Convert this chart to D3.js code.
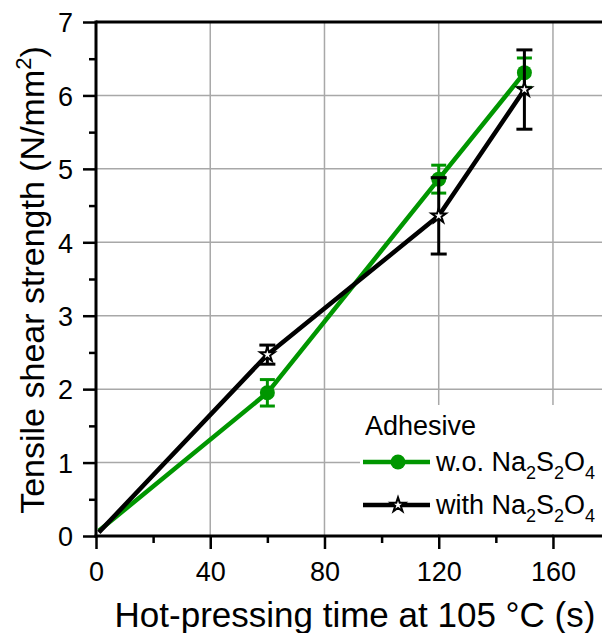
<!DOCTYPE html>
<html>
<head>
<meta charset="utf-8">
<script src="https://cdn.jsdelivr.net/npm/d3@7"></script>
<style>
  body { margin: 0; background: #fff; }
  text { font-family: "Liberation Sans", Arial, sans-serif; fill: #000; }
</style>
</head>
<body>
<div id="chart"></div>
<script>
(function() {

  // data
  var times = [1, 60, 120, 150];
  var woMean = [0.07, 1.95, 4.86, 6.31];
  var woErr = [null, 0.18, 0.19, 0.20];
  var withMean = [0.05, 2.47, 4.36, 6.08];
  var withErr = [null, 0.13, 0.52, 0.54];
  var xTicks = [0, 40, 80, 120, 160];
  var yTicks = [0, 1, 2, 3, 4, 5, 6, 7];

  var W = 602, H = 633;
  var margin = { top: 22, left: 96, right: 0, bottom: 97 };

  var svg = d3.select("#chart")
        .append("svg")
        .attr("width", W)
        .attr("height", H);

  var x = d3.scaleLinear().domain([0, 177]).range([margin.left, margin.left + 177 * 2.856]);
  var y = d3.scaleLinear().domain([0, 7]).range([H - margin.bottom + 0, margin.top]);

  var green = "#009600";

  // grid
  var grid = svg.append("g").attr("stroke", "#a8a8a8").attr("stroke-width", 1.5);
  grid.selectAll(".gx")
    .data(xTicks.filter(function(d){ return d > 0; }))
    .enter().append("line")
    .attr("x1", function(d){ return x(d); })
    .attr("x2", function(d){ return x(d); })
    .attr("y1", y(0))
    .attr("y2", y(7));
  grid.selectAll(".gy")
    .data(yTicks.filter(function(d){ return d > 0 && d < 7; }))
    .enter().append("line")
    .attr("y1", function(d){ return y(d); })
    .attr("y2", function(d){ return y(d); })
    .attr("x1", x(0))
    .attr("x2", W);

  // legend background covers the grid
  svg.append("rect")
    .attr("x", 360).attr("y", 405)
    .attr("width", W - 360).attr("height", y(0) - 407)
    .attr("fill", "#fff");

  // top frame
  svg.append("line")
    .attr("x1", x(0)).attr("x2", W)
    .attr("y1", y(7)).attr("y2", y(7))
    .attr("stroke", "#000").attr("stroke-width", 3);

  // axes
  var xAxis = d3.axisBottom(x)
    .tickValues(d3.range(0, 177, 20))
    .tickSize(13)
    .tickFormat(function(d){ return d % 40 === 0 ? d : ""; });
  var gx = svg.append("g")
    .attr("transform", "translate(0," + y(0) + ")")
    .call(xAxis);
  gx.select(".domain").remove();
  gx.append("line").attr("x1", x(0) - 1.5).attr("x2", W).attr("stroke", "#000").attr("stroke-width", 3);
  gx.selectAll(".tick line")
    .attr("stroke-width", 2.5)
    .attr("y2", function(d){ return d % 40 === 0 ? 13 : 7; });
  gx.selectAll(".tick text")
    .attr("y", 0).attr("dy", 45)
    .style("font-size", "27px")
    .style("font-family", "Liberation Sans, Arial, sans-serif");

  var yAxis = d3.axisLeft(y)
    .tickValues(d3.range(0, 7.01, 0.5))
    .tickSize(13)
    .tickFormat(function(d){ return d % 1 === 0 ? d : ""; });
  var gy = svg.append("g")
    .attr("transform", "translate(" + x(0) + ",0)")
    .call(yAxis);
  gy.select(".domain").remove();
  gy.append("line").attr("y1", y(0) + 1.5).attr("y2", y(7) - 1.5).attr("stroke", "#000").attr("stroke-width", 3);
  gy.selectAll(".tick line")
    .attr("stroke-width", 2.5)
    .attr("x2", function(d){ return d % 1 === 0 ? -13 : -7; });
  gy.selectAll(".tick text")
    .attr("x", -23).attr("dy", "0.36em")
    .style("font-size", "27px")
    .style("font-family", "Liberation Sans, Arial, sans-serif");

  // axis titles
  svg.append("text")
    .attr("x", 355).attr("y", 627)
    .attr("text-anchor", "middle")
    .style("font-size", "35px")
    .text("Hot-pressing time at 105 °C (s)");

  var yt = svg.append("text")
    .attr("transform", "translate(44,280) rotate(-90)")
    .attr("text-anchor", "middle")
    .style("font-size", "34px");
  yt.append("tspan").text("Tensile shear strength (N/mm");
  yt.append("tspan").attr("dy", -13).style("font-size", "22px").text("2");
  yt.append("tspan").attr("dy", 13).text(")");

  // series
  function rows(mean, err) {
    return times.map(function(t, i){ return { t: t, v: mean[i], e: err[i] }; });
  }
  var series = [
    { name: "wo", color: green, data: rows(woMean, woErr), cap: 15 },
    { name: "with", color: "#000", data: rows(withMean, withErr), cap: 16 }
  ];

  var line = d3.line()
    .x(function(d){ return x(d.t); })
    .y(function(d){ return y(d.v); });

  var star = d3.symbol().type(d3.symbolStar).size(65);

  series.forEach(function(s) {
    var g = svg.append("g");
    g.append("path")
      .datum(s.data)
      .attr("d", line)
      .attr("fill", "none")
      .attr("stroke", s.color)
      .attr("stroke-width", 4.5)
      .attr("stroke-linejoin", "round");

    var withE = s.data.filter(function(d){ return d.e !== null; });
    var eb = g.selectAll(".eb").data(withE).enter().append("g")
      .attr("stroke", s.color).attr("stroke-width", 3);
    eb.append("line")
      .attr("x1", function(d){ return x(d.t); })
      .attr("x2", function(d){ return x(d.t); })
      .attr("y1", function(d){ return y(d.v - d.e); })
      .attr("y2", function(d){ return y(d.v + d.e); });
    [1, -1].forEach(function(sign) {
      eb.append("line")
        .attr("x1", function(d){ return x(d.t) - s.cap / 2; })
        .attr("x2", function(d){ return x(d.t) + s.cap / 2; })
        .attr("y1", function(d){ return y(d.v + sign * d.e); })
        .attr("y2", function(d){ return y(d.v + sign * d.e); });
    });

    if (s.name === "wo") {
      g.selectAll(".m").data(withE).enter().append("circle")
        .attr("cx", function(d){ return x(d.t); })
        .attr("cy", function(d){ return y(d.v); })
        .attr("r", 7.5)
        .attr("fill", s.color);
    } else {
      g.selectAll(".m").data(withE).enter().append("path")
        .attr("d", star)
        .attr("transform", function(d){ return "translate(" + x(d.t) + "," + y(d.v) + ")"; })
        .attr("fill", "#fff")
        .attr("stroke", "#000")
        .attr("stroke-width", 2);
    }
  });

  // legend
  var leg = svg.append("g");
  leg.append("text").attr("x", 365).attr("y", 435).style("font-size", "27px").text("Adhesive");

  var legRows = [
    { color: green, y: 462, label: "w.o. ", kind: "circle" },
    { color: "#000", y: 505, label: "with ", kind: "star" }
  ];
  legRows.forEach(function(r) {
    leg.append("line")
      .attr("x1", 363).attr("x2", 430)
      .attr("y1", r.y).attr("y2", r.y)
      .attr("stroke", r.color).attr("stroke-width", 4.5);
    if (r.kind === "circle") {
      leg.append("circle").attr("cx", 398).attr("cy", r.y).attr("r", 7.5).attr("fill", r.color);
    } else {
      leg.append("path").attr("d", star)
        .attr("transform", "translate(398," + r.y + ")")
        .attr("fill", "#fff").attr("stroke", "#000").attr("stroke-width", 2);
    }
    var t = leg.append("text").attr("x", 436).attr("y", r.y + 9).style("font-size", "27px");
    t.append("tspan").text(r.label + "Na");
    t.append("tspan").attr("dy", 8).style("font-size", "18px").text("2");
    t.append("tspan").attr("dy", -8).text("S");
    t.append("tspan").attr("dy", 8).style("font-size", "18px").text("2");
    t.append("tspan").attr("dy", -8).text("O");
    t.append("tspan").attr("dy", 8).style("font-size", "18px").text("4");
  });

})();
</script>
</body>
</html>
